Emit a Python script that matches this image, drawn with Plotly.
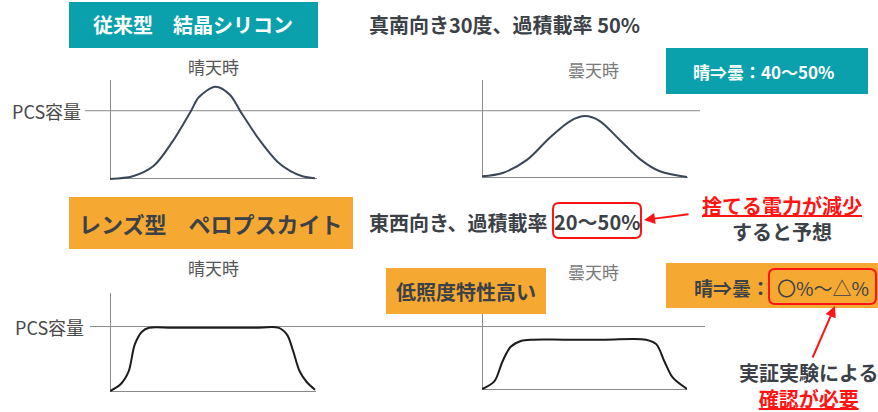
import plotly.graph_objects as go

W, H = 878, 412
FONT = "Noto Sans CJK JP"
TEAL = "#0aa1ad"
ORANGE = "#f5a832"
DARK = "#3c4147"
RED = "#ff1414"

# --- generation profiles (time of day normalised 0..1, output relative to PCS capacity = 1.0)
si_sunny_t = [0.0, 0.11, 0.21, 0.30, 0.39, 0.43, 0.51, 0.58, 0.63, 0.72, 0.81, 0.87, 0.93, 0.99]
si_sunny_p = [0.0, 0.04, 0.19, 0.54, 0.99, 1.20, 1.35, 1.23, 0.99, 0.58, 0.25, 0.12, 0.04, 0.01]

si_cloudy_t = [0.0, 0.10, 0.22, 0.33, 0.43, 0.50, 0.57, 0.67, 0.77, 0.86, 0.995]
si_cloudy_p = [0.01, 0.06, 0.26, 0.59, 0.84, 0.91, 0.84, 0.55, 0.26, 0.09, 0.0]

pv_sunny_t = [0.0, 0.05, 0.09, 0.12, 0.155, 0.19, 0.30, 0.50, 0.70, 0.82, 0.86, 0.89, 0.92, 0.955, 0.995]
pv_sunny_p = [0.0, 0.10, 0.30, 0.72, 0.92, 0.98, 0.98, 0.98, 0.98, 0.98, 0.87, 0.61, 0.31, 0.14, 0.02]

pv_cloudy_t = [0.0, 0.06, 0.10, 0.14, 0.19, 0.25, 0.40, 0.60, 0.80, 0.85, 0.89, 0.93, 1.0]
pv_cloudy_p = [0.0, 0.12, 0.43, 0.66, 0.75, 0.77, 0.77, 0.77, 0.77, 0.70, 0.43, 0.18, 0.0]

PCS_CAPACITY = 1.0

# --- labels
title_si = "従来型　結晶シリコン"
cond_si = "真南向き30度、過積載率 50%"
title_pv = "レンズ型　ペロプスカイト"
cond_pv = "東西向き、過積載率"
cond_pv_ratio = "20～50%"
sunny_label = "晴天時"
cloudy_label = "曇天時"
pcs_label = "PCS容量"
ratio_si = "晴⇒曇：40～50%"
ratio_pv_head = "晴⇒曇："
ratio_pv_value = "〇%～△%"
low_light = "低照度特性高い"
note1_red = "捨てる電力が減少"
note1 = "すると予想"
note2 = "実証実験による"
note2_red = "確認が必要"


def px(x):
    return x / W


def py(y):
    return 1 - y / H


fig = go.Figure()

# panel layout in pixels: (left, right, top, bottom, y max)
panels = [
    ("x", "y", 110, 317, 80, 180, 1.45, si_sunny_t, si_sunny_p, "#3b4657"),
    ("x2", "y2", 482, 688, 80, 178, 1.45, si_cloudy_t, si_cloudy_p, "#3b4657"),
    ("x3", "y3", 110, 316, 293, 392, 1.52, pv_sunny_t, pv_sunny_p, "#1c1c1c"),
    ("x4", "y4", 482, 687, 314, 390, 1.17, pv_cloudy_t, pv_cloudy_p, "#1c1c1c"),
]

for i, (xa, ya, l, r, t, b, ymax, ts, ps, col) in enumerate(panels):
    fig.add_trace(go.Scatter(
        x=ts, y=ps, xaxis=xa, yaxis=ya, mode="lines",
        line=dict(color=col, width=2, shape="spline", smoothing=0.9),
        hoverinfo="skip", showlegend=False,
    ))
    suffix = "" if i == 0 else str(i + 1)
    common = dict(showgrid=False, showticklabels=False, ticks="", showline=False,
                  zeroline=True, zerolinecolor="#8a8a8a", zerolinewidth=1)
    fig.update_layout(**{
        "xaxis" + suffix: dict(domain=[px(l), px(r)], range=[0, 1.0],
                               anchor=ya, **common),
        "yaxis" + suffix: dict(domain=[py(b), py(t)], range=[-0.015, ymax],
                               anchor=xa, **common),
    })

shapes = []
annotations = []

# PCS capacity lines spanning both panels of each row
for yref, x0, x1, lab_x in [("y", 85, 700, 83), ("y3", 90, 705, 86)]:
    shapes.append(dict(type="line", xref="paper", yref=yref, x0=px(x0), x1=px(x1),
                       y0=PCS_CAPACITY, y1=PCS_CAPACITY,
                       line=dict(color="#8a8a8a", width=1), layer="below"))
    annotations.append(dict(xref="paper", yref=yref, x=px(lab_x), y=PCS_CAPACITY,
                            xanchor="right", yanchor="middle", showarrow=False,
                            text=pcs_label, font=dict(family=FONT, size=18, color="#4a4a4a")))


def box(x0, y0, x1, y1, color):
    shapes.append(dict(type="rect", xref="paper", yref="paper",
                       x0=px(x0), x1=px(x1), y0=py(y1), y1=py(y0),
                       fillcolor=color, line=dict(width=0), layer="above"))


def rounded(x0, y0, x1, y1, r):
    rx, ry = r / W, r / H
    X0, X1, Y0, Y1 = px(x0), px(x1), py(y1), py(y0)
    path = (f"M {X0 + rx},{Y0} L {X1 - rx},{Y0} Q {X1},{Y0} {X1},{Y0 + ry} "
            f"L {X1},{Y1 - ry} Q {X1},{Y1} {X1 - rx},{Y1} L {X0 + rx},{Y1} "
            f"Q {X0},{Y1} {X0},{Y1 - ry} L {X0},{Y0 + ry} Q {X0},{Y0} {X0 + rx},{Y0} Z")
    shapes.append(dict(type="path", xref="paper", yref="paper", path=path,
                       line=dict(color=RED, width=2), layer="above"))


def text(x, y, s, size, color=DARK, anchor="center", bold=False):
    annotations.append(dict(xref="paper", yref="paper", x=px(x), y=py(y),
                            xanchor=anchor, yanchor="middle", showarrow=False,
                            text=f"<b>{s}</b>" if bold else s,
                            font=dict(family=FONT, size=size, color=color)))


def arrow(x_head, y_head, x_tail, y_tail):
    annotations.append(dict(xref="paper", yref="paper", x=px(x_head), y=py(y_head),
                            ax=x_tail - x_head, ay=y_tail - y_head, text="",
                            showarrow=True, arrowhead=2, arrowsize=1.1,
                            arrowwidth=2, arrowcolor=RED))


def red_u(s):
    return f"<span style='color:{RED}'><u>{s}</u></span>"


# header boxes
box(69, 2, 318, 48, TEAL)
text(193, 25, title_si, 20, "white", bold=True)
text(367, 25, cond_si, 20, anchor="left", bold=True)

box(69, 197, 353, 249, ORANGE)
text(211, 223, title_pv, 22, bold=True)
text(367, 222, cond_pv, 20, anchor="left", bold=True)
text(597, 221, cond_pv_ratio, 20, bold=True)
rounded(553, 203, 641, 238, 6)

# panel titles
text(213, 66, sunny_label, 17, "#555555")
text(593, 69, cloudy_label, 17, "#7a7a7a")
text(213, 267, sunny_label, 17, "#555555")
text(593, 271, cloudy_label, 17, "#7a7a7a")

# ratio boxes
box(666, 48, 868, 94, TEAL)
text(764, 71, ratio_si, 17, "white", bold=True)

box(386, 268, 546, 314, ORANGE)
text(466, 291, low_light, 20, bold=True)

box(666, 263, 878, 308, ORANGE)
text(772, 287, ratio_pv_head, 19, anchor="right", bold=True)
text(823, 287, ratio_pv_value, 19)
rounded(769, 269, 876, 304, 6)

# notes and arrows (two-line callouts, red underlined part plus dark part)
text(782, 218, f"{red_u(note1_red)}<br>{note1}", 20, bold=True)
arrow(644, 220, 690, 214)

text(808, 385, f"{note2}<br>{red_u(note2_red)}", 20, bold=True)
arrow(835, 306, 812, 359)

fig.update_layout(
    width=W, height=H, margin=dict(l=0, r=0, t=0, b=0),
    paper_bgcolor="white", plot_bgcolor="rgba(0,0,0,0)",
    shapes=shapes, annotations=annotations, showlegend=False,
)

fig.write_html("out.html")
